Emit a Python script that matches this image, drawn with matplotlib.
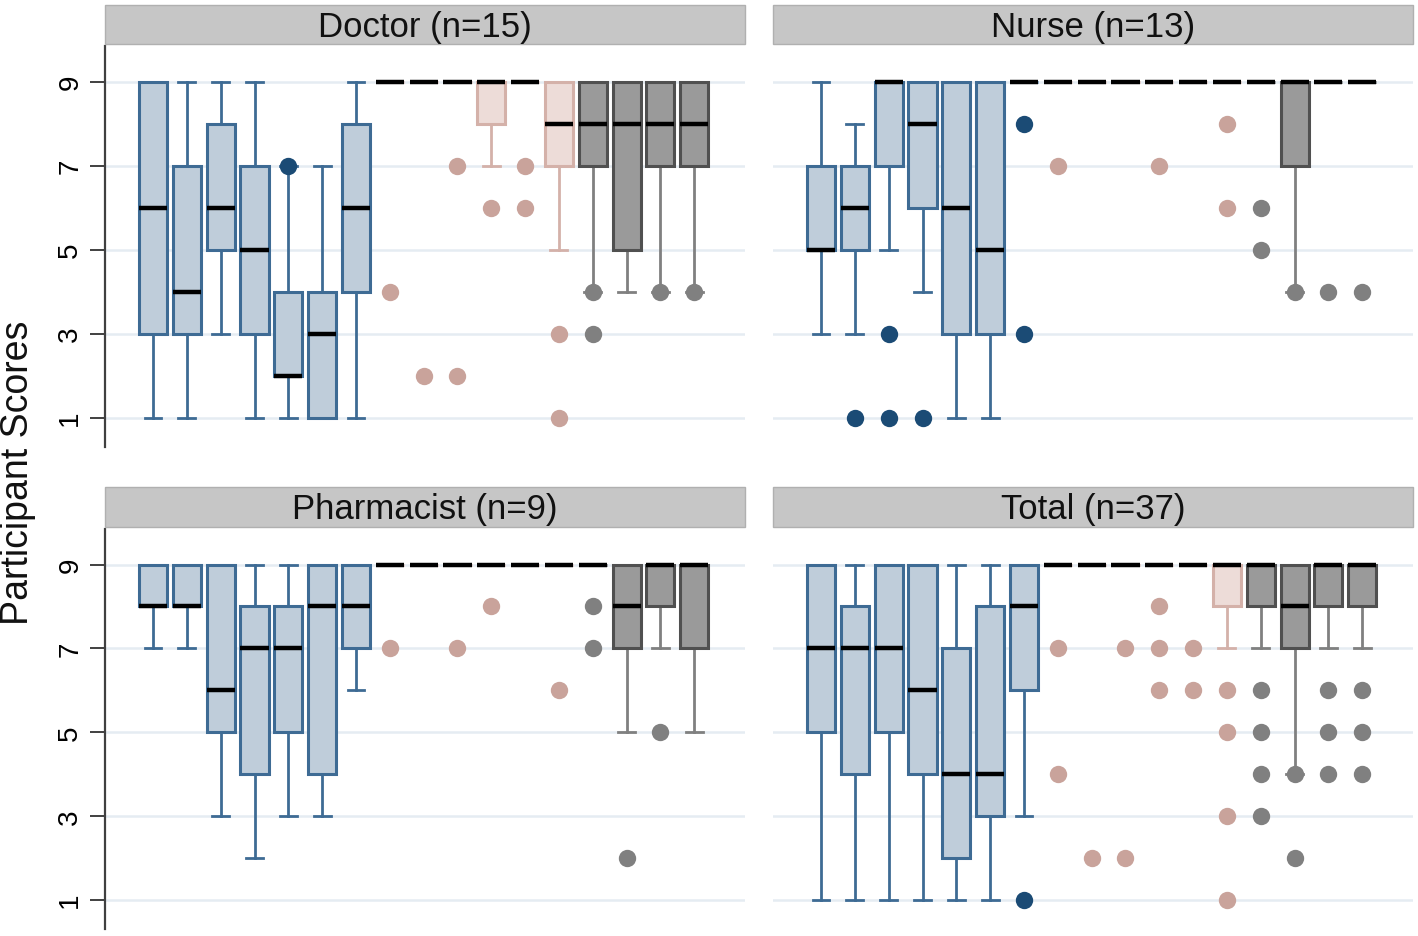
import matplotlib
matplotlib.use("Agg")
import matplotlib.pyplot as plt
from matplotlib.patches import Rectangle

plt.rcParams['font.family'] = ['Liberation Sans', 'DejaVu Sans']

# ---------------- data ----------------
panel_titles = ["Doctor (n=15)", "Nurse (n=13)", "Pharmacist (n=9)", "Total (n=37)"]
group_sizes = [7, 6, 4]  # blue, pink, gray

doctor_q1  = [3, 3, 5, 3, 2, 1, 4, 9, 9, 9, 8, 9, 7, 7, 5, 7, 7]
doctor_med = [6, 4, 6, 5, 2, 3, 6, 9, 9, 9, 9, 9, 8, 8, 8, 8, 8]
doctor_q3  = [9, 7, 8, 7, 4, 4, 8, 9, 9, 9, 9, 9, 9, 9, 9, 9, 9]
doctor_lo  = [1, 1, 3, 1, 1, 1, 1, 9, 9, 9, 7, 9, 5, 4, 4, 4, 4]
doctor_hi  = [9, 9, 9, 9, 7, 7, 9, 9, 9, 9, 9, 9, 9, 9, 9, 9, 9]
doctor_out = [[], [], [], [], [7], [], [], [4], [2], [7, 2], [6], [7, 6], [3, 1],
              [4, 3], [], [4], [4]]

nurse_q1  = [5, 5, 7, 6, 3, 3, 9, 9, 9, 9, 9, 9, 9, 9, 7, 9, 9]
nurse_med = [5, 6, 9, 8, 6, 5, 9, 9, 9, 9, 9, 9, 9, 9, 9, 9, 9]
nurse_q3  = [7, 7, 9, 9, 9, 9, 9, 9, 9, 9, 9, 9, 9, 9, 9, 9, 9]
nurse_lo  = [3, 3, 5, 4, 1, 1, 9, 9, 9, 9, 9, 9, 9, 9, 4, 9, 9]
nurse_hi  = [9, 8, 9, 9, 9, 9, 9, 9, 9, 9, 9, 9, 9, 9, 9, 9, 9]
nurse_out = [[], [1], [3, 1], [1], [], [], [8, 3], [7], [], [], [7], [], [8, 6],
             [6, 5], [4], [4], [4]]

pharm_q1  = [8, 8, 5, 4, 5, 4, 7, 9, 9, 9, 9, 9, 9, 9, 7, 8, 7]
pharm_med = [8, 8, 6, 7, 7, 8, 8, 9, 9, 9, 9, 9, 9, 9, 8, 9, 9]
pharm_q3  = [9, 9, 9, 8, 8, 9, 9, 9, 9, 9, 9, 9, 9, 9, 9, 9, 9]
pharm_lo  = [7, 7, 3, 2, 3, 3, 6, 9, 9, 9, 9, 9, 9, 9, 5, 7, 5]
pharm_hi  = [9, 9, 9, 9, 9, 9, 9, 9, 9, 9, 9, 9, 9, 9, 9, 9, 9]
pharm_out = [[], [], [], [], [], [], [], [7], [], [7], [8], [], [6],
             [8, 7], [2], [5], []]

total_q1  = [5, 4, 5, 4, 2, 3, 6, 9, 9, 9, 9, 9, 8, 8, 7, 8, 8]
total_med = [7, 7, 7, 6, 4, 4, 8, 9, 9, 9, 9, 9, 9, 9, 8, 9, 9]
total_q3  = [9, 8, 9, 9, 7, 8, 9, 9, 9, 9, 9, 9, 9, 9, 9, 9, 9]
total_lo  = [1, 1, 1, 1, 1, 1, 3, 9, 9, 9, 9, 9, 7, 7, 4, 7, 7]
total_hi  = [9, 9, 9, 9, 9, 9, 9, 9, 9, 9, 9, 9, 9, 9, 9, 9, 9]
total_out = [[], [], [], [], [], [], [1], [7, 4], [2], [7, 2], [8, 7, 6], [7, 6],
             [6, 5, 3, 1], [6, 5, 4, 3], [4, 2], [6, 5, 4], [6, 5, 4]]

y_ticks = [1, 3, 5, 7, 9]

panels = [
    (doctor_q1, doctor_med, doctor_q3, doctor_lo, doctor_hi, doctor_out),
    (nurse_q1, nurse_med, nurse_q3, nurse_lo, nurse_hi, nurse_out),
    (pharm_q1, pharm_med, pharm_q3, pharm_lo, pharm_hi, pharm_out),
    (total_q1, total_med, total_q3, total_lo, total_hi, total_out),
]

# ---------------- styles ----------------
group_styles = [
    dict(face="#bfcdda", edge="#3e6b94", whisk="#3e6b94", flier="#1b4b75"),
    dict(face="#eddcd8", edge="#d4b1a9", whisk="#d4b1a9", flier="#c9a39b"),
    dict(face="#9a9a9a", edge="#505050", whisk="#808080", flier="#808080"),
]

W, H = 1418, 937
fig = plt.figure(figsize=(W / 100, H / 100), dpi=100)

cols = [(105, 745), (773, 1413)]
rows = [(6, 47, 448), (488, 530, 930)]

def fx(px):
    return px / W

def fy(py):
    return 1 - py / H

for idx, data in enumerate(panels):
    r, c = divmod(idx, 2)
    x0, x1 = cols[c]
    s0, p0, p1 = rows[r]
    ax = fig.add_axes([fx(x0), fy(p1), fx(x1 - x0), (p1 - p0) / H])
    strip = Rectangle((fx(x0), fy(p0 - 2)), fx(x1 - x0), (p0 - 2 - s0) / H,
                      transform=fig.transFigure, facecolor="#c6c6c6",
                      edgecolor="#b0b0b0", lw=1.0, zorder=0)
    fig.patches.append(strip)
    fig.text(fx((x0 + x1) / 2), fy((s0 + p0 - 2) / 2 + 2), panel_titles[idx],
             ha="center", va="center", fontsize=25, color="#111111")

    q1, med, q3, lo, hi, out = data
    start = 0
    for g, n in enumerate(group_sizes):
        st = group_styles[g]
        stats = []
        for i in range(start, start + n):
            stats.append(dict(q1=q1[i], med=med[i], q3=q3[i],
                              whislo=lo[i], whishi=hi[i], fliers=out[i]))
        positions = list(range(start + 1, start + n + 1))
        ax.bxp(stats, positions=positions, widths=0.83, patch_artist=True,
               showfliers=True, manage_ticks=False,
               boxprops=dict(facecolor=st["face"], edgecolor=st["edge"], lw=2.2, zorder=3),
               whiskerprops=dict(color=st["whisk"], lw=2.0, zorder=2),
               capprops=dict(color=st["whisk"], lw=2.0, zorder=2),
               capwidths=0.5,
               medianprops=dict(color="black", lw=3.2, solid_capstyle="butt", zorder=4),
               flierprops=dict(marker="o", markersize=12.5, markerfacecolor=st["flier"],
                               markeredgecolor="none", zorder=5))
        start += n

    ax.set_xlim(-0.42, 18.5)
    ax.set_ylim(0.3, 9.85)
    ax.set_yticks(y_ticks)
    ax.set_xticks([])
    for yv in y_ticks:
        ax.axhline(yv, color="#e5ecf2", lw=1.8, zorder=1)
    for sp in ["top", "right", "bottom"]:
        ax.spines[sp].set_visible(False)
    if c == 0:
        ax.spines["left"].set_color("#404040")
        ax.spines["left"].set_linewidth(1.6)
        ax.tick_params(axis="y", direction="out", length=11, width=1.4,
                       color="#404040", labelsize=20, pad=14, labelrotation=90)
        for lab in ax.get_yticklabels():
            lab.set_va("center")
            lab.set_ha("center")
    else:
        ax.spines["left"].set_visible(False)
        ax.tick_params(axis="y", length=0, labelleft=False)

fig.text(fx(18), fy(473), "Participant Scores", rotation=90, ha="center",
         va="center", fontsize=27, color="#111111")

fig.savefig("out.png", dpi=100)
